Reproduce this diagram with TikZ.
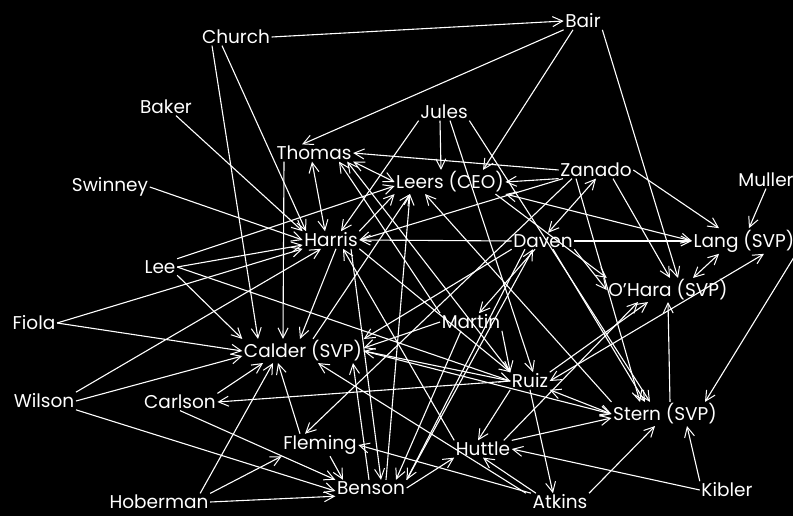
\documentclass[tikz,border=0pt]{standalone}
\usepackage{fontspec}
\setmainfont{Poppins}
\usetikzlibrary{arrows.meta}
\begin{document}
\begin{tikzpicture}[x=1pt,y=-1pt,
  nm/.style={text=white,font=\fontsize{18.5}{18.5}\selectfont,inner sep=1.5pt,anchor=center},
  e/.style={draw=white,line width=1.1pt,-{Straight Barb[length=10pt,width=10pt,line width=1pt]}},
  ee/.style={draw=white,line width=1.1pt,{Straight Barb[length=10pt,width=10pt,line width=1pt]}-{Straight Barb[length=10pt,width=10pt,line width=1pt]}}]
\fill[black] (0,0) rectangle (793,516);
\useasboundingbox (0,0) rectangle (793,516);
\node[nm] (church) at (236,37) {Church};
\node[nm] (bair) at (583,21) {Bair};
\node[nm] (baker) at (166,107) {Baker};
\node[nm] (jules) at (444,112) {Jules};
\node[nm] (thomas) at (314,153) {Thomas};
\node[nm] (zanado) at (596,170) {Zanado};
\node[nm] (leers) at (450,182) {Leers (CEO)};
\node[nm] (muller) at (766,180) {Muller};
\node[nm] (swinney) at (110,187) {Swinney};
\node[nm] (harris) at (331,240) {Harris};
\node[nm] (daven) at (543,241) {Daven};
\node[nm] (lang) at (744,241) {Lang (SVP)};
\node[nm] (lee) at (160,267) {Lee};
\node[nm] (ohara) at (668,290) {O’Hara (SVP)};
\node[nm] (fiola) at (34,323) {Fiola};
\node[nm] (martin) at (471,322) {Martin};
\node[nm] (calder) at (303,351) {Calder (SVP)};
\node[nm] (ruiz) at (530,381) {Ruiz};
\node[nm] (wilson) at (44,401) {Wilson};
\node[nm] (carlson) at (180,402) {Carlson};
\node[nm] (stern) at (665,414) {Stern (SVP)};
\node[nm] (fleming) at (320,445) {Fleming};
\node[nm] (huttle) at (483,449) {Huttle};
\node[nm] (benson) at (371,488) {Benson};
\node[nm] (kibler) at (727,490) {Kibler};
\node[nm] (hoberman) at (159,502) {Hoberman};
\node[nm] (atkins) at (560,502) {Atkins};
% edges
\draw[e] (church.east) -- (bair.west);
\draw[e] ([xshift=-14pt]church.south) -- ([xshift=-25pt]harris.north);
\draw[e] ([xshift=-24pt]church.south) -- ([xshift=-45pt]calder.north);
\draw[e] (bair.south west) -- ([xshift=-12pt]thomas.north);
\draw[e] ([xshift=-10pt]bair.south) -- ([xshift=33pt]leers.north);
\draw[e] (bair.south east) -- ([xshift=10pt]ohara.north);
\draw[e] ([xshift=10pt]baker.south) -- (harris.north west);
\draw[e] (swinney.east) -- (harris.west);
\draw[e] ([xshift=-4pt]jules.south) -- ([xshift=-9pt]leers.north);
\draw[e] (jules.south west) -- ([xshift=10pt]harris.north);
\draw[e] ([xshift=6pt]jules.south) -- ([xshift=3pt]ruiz.north);
\draw[e] (jules.south east) -- ([xshift=-15pt]stern.north);
\draw[e] (zanado.west) -- (thomas.east);
\draw[e] (zanado.south west) -- (leers.east);
\draw[ee] (zanado.south) -- ([xshift=5pt]daven.north);
\draw[e] (zanado.east) -- ([xshift=-25pt]lang.north);
\draw[e] ([xshift=17pt]zanado.south) -- ([xshift=2pt]ohara.north);
\draw[e] ([xshift=-33pt]zanado.south) -- (harris.east);
\draw[e] ([xshift=-24pt]zanado.south) -- ([xshift=-15pt]fleming.north);
\draw[e] ([xshift=-20pt]zanado.south) -- ([xshift=-25pt]stern.north);
\draw[ee] ([xshift=-2pt]thomas.south) -- ([xshift=-6pt]harris.north);
\draw[e] ([xshift=-30pt]thomas.south) -- ([xshift=-20pt]calder.north);
\draw[ee] (thomas.south east) -- (leers.west);
\draw[e] (martin.north west) -- ([xshift=25pt]thomas.south);
\draw[e] (ruiz.north west) -- ([xshift=-6pt]thomas.south east);
\draw[ee] (leers.south east) -- (lang.west);
\draw[e] ([xshift=-10pt]leers.south east) -- (ohara.north west);
\draw[e] (lee.north east) -- ([yshift=-4pt]leers.west);
\draw[e] (lee.east) -- ([yshift=-5pt]harris.west);
\draw[e] (lee.south east) -- (calder.north west);
\draw[e] (lee.east) -- (ruiz.west);
\draw[e] (fiola.east) -- (harris.south west);
\draw[e] (fiola.east) -- (calder.west);
\draw[e] (wilson.north east) -- ([xshift=-10pt]harris.south);
\draw[e] (wilson.east) -- ([yshift=-5pt]calder.west);
\draw[e] (wilson.south east) -- ([yshift=-3pt]benson.west);
\draw[e] (carlson.north east) -- ([xshift=-40pt]calder.south);
\draw[e] (carlson.south) -- (benson.north west);
\draw[e] ([xshift=-10pt]hoberman.north east) -- ([xshift=-30pt]calder.south);
\draw[e] (hoberman.north east) -- (fleming.south west);
\draw[e] (hoberman.east) -- (benson.south west);
\draw[e] ([xshift=-20pt]fleming.north) -- ([xshift=-25pt]calder.south);
\draw[e] ([xshift=10pt]fleming.south) -- ([xshift=-28pt]benson.north);
\draw[e] (atkins.north west) -- (fleming.east);
\draw[e] ([xshift=-5pt]atkins.north west) -- ([xshift=15pt]calder.south);
\draw[e] ([xshift=5pt]atkins.north west) -- (huttle.south);
\draw[e] (atkins.north east) -- ([xshift=-10pt]stern.south);
\draw[e] (ruiz.south) -- ([xshift=-7pt]atkins.north);
\draw[e] (kibler.north west) -- ([xshift=22pt]stern.south);
\draw[e] (kibler.west) -- (huttle.east);
\draw[e] (huttle.north east) -- ([yshift=-4pt]stern.west);
\draw[e] ([xshift=-8pt]huttle.north east) -- ([xshift=-30pt]ohara.south);
\draw[e] (huttle.north west) -- ([xshift=12pt]harris.south);
\draw[e] (ruiz.south west) -- ([xshift=-5pt]huttle.north);
\draw[e] (benson.east) -- (huttle.south west);
\draw[e] ([xshift=15pt]benson.north) -- ([xshift=-40pt]leers.south);
\draw[e] ([xshift=-2pt]benson.north) -- ([xshift=50pt]calder.south);
\draw[e] (benson.north east) -- ([xshift=-10pt]daven.south);
\draw[e] ([xshift=20pt]harris.south) -- ([xshift=10pt]benson.north);
\draw[e] ([xshift=-10pt]martin.south) -- ([xshift=25pt]benson.north);
\draw[e] ([xshift=-18pt]daven.south) -- (benson.north east);
\draw[e] (daven.west) -- (harris.east);
\draw[e] (daven.east) -- (lang.west);
\draw[e] ([xshift=-8pt]daven.south) -- ([xshift=8pt]martin.north);
\draw[e] ([xshift=10pt]daven.south) -- ([xshift=-20pt]stern.north);
\draw[e] (daven.south east) -- (ohara.west);
\draw[e] (daven.south west) -- (calder.north east);
\draw[e] (muller.south) -- ([xshift=5pt]lang.north);
\draw[ee] ([xshift=-25pt]lang.south) -- ([xshift=25pt]ohara.north);
\draw[e] (lang.south east) -- ([xshift=40pt]stern.north);
\draw[ee] (ruiz.east) -- ([xshift=20pt]lang.south);
\draw[e] ([xshift=5pt]stern.north) -- (ohara.south);
\draw[ee] (stern.west) -- (ruiz.south east);
\draw[e] (stern.north west) -- ([xshift=-25pt]leers.south);
\draw[e] (ruiz.north east) -- ([xshift=-20pt]ohara.south);
\draw[e] (ruiz.west) -- (carlson.east);
\draw[e] (ruiz.west) -- (calder.east);
\draw[e] (martin.south east) -- (ruiz.north west);
\draw[e] (martin.west) -- ([yshift=3pt]calder.east);
\draw[e] ([xshift=10pt]calder.north) -- ([xshift=-40pt]leers.south);
\draw[e] ([xshift=5pt]harris.south) -- ([xshift=-3pt]calder.north);
\draw[e] (harris.north east) -- (leers.south west);
\draw[e] (harris.south east) -- (ruiz.north west);
\draw[e] (calder.east) -- (stern.west);
\end{tikzpicture}
\end{document}
